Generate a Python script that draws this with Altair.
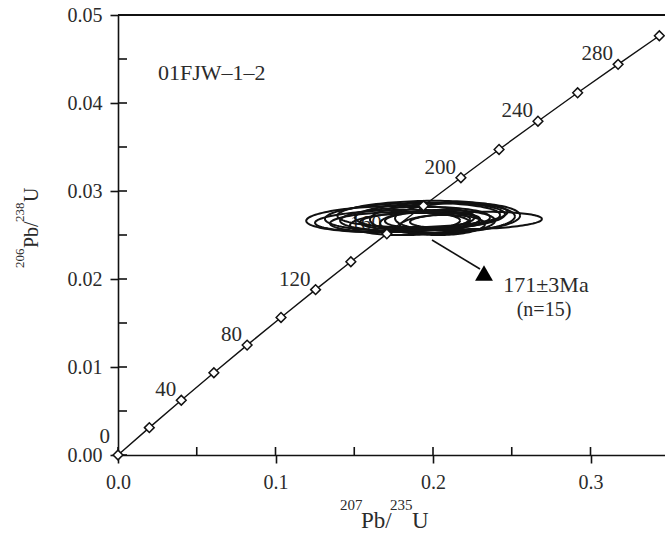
import altair as alt
import pandas as pd
import numpy as np

# ---- data ----
# Concordia reference points: age (Ma), 207Pb/235U, 206Pb/238U
conc_age = [0, 20, 40, 60, 80, 100, 120, 140, 160, 180, 200, 220, 240, 260, 280, 300]
conc_x = [0.0, 0.01989, 0.04018, 0.06087, 0.08198, 0.10350, 0.12545, 0.14784,
          0.17068, 0.19397, 0.21772, 0.24194, 0.26664, 0.29183, 0.31752, 0.34370]
conc_y = [0.0, 0.00311, 0.00622, 0.00935, 0.01249, 0.01563, 0.01879, 0.02196,
          0.02513, 0.02832, 0.03151, 0.03472, 0.03793, 0.04116, 0.04439, 0.04764]
label_ages = [40, 80, 120, 160, 200, 240, 280]

# Analysis error ellipses: centre, half-widths (207/235, 206/238)
ell_cx = [0.1730, 0.1775, 0.1870, 0.1759, 0.1886, 0.1854, 0.1981, 0.1917,
          0.2060, 0.2029, 0.1965, 0.2156, 0.2060, 0.2273, 0.1933]
ell_cy = [0.02682, 0.02659, 0.02705, 0.02648, 0.02682, 0.02625, 0.02716, 0.02659,
          0.02693, 0.02648, 0.02670, 0.02705, 0.02614, 0.02665, 0.02739]
ell_rx = [0.0535, 0.0524, 0.0556, 0.0413, 0.0476, 0.0381, 0.0476, 0.0381,
          0.0460, 0.0365, 0.0270, 0.0397, 0.0270, 0.0419, 0.0540]
ell_ry = [0.00148, 0.00125, 0.00159, 0.00114, 0.00136, 0.00125, 0.00148, 0.00102,
          0.00170, 0.00136, 0.00091, 0.00159, 0.00114, 0.00097, 0.00148]
ell_slope = 0.004  # slight positive correlation of the ellipses

x_major = [0.0, 0.1, 0.2, 0.3]
x_minor = [0.05, 0.15, 0.25]
y_major = [0.0, 0.01, 0.02, 0.03, 0.04, 0.05]
y_minor = [0.005, 0.015, 0.025, 0.035, 0.045]

sample_name = "01FJW\u20131\u20132"
age_text = "171\u00b13Ma"
n_text = "(n=15)"
x_title_parts = ["207", "Pb/", "235", "U"]
y_title_parts = ["206", "Pb/", "238", "U"]

# ---- tables ----
conc = pd.DataFrame({"age": conc_age, "x": conc_x, "y": conc_y})
lab = conc[conc["age"].isin(label_ages)].copy()
lab["txt"] = lab["age"].astype(str)
zero = conc[conc["age"] == 0].copy()
zero["txt"] = "0"

t = np.linspace(0, 2 * np.pi, 121)
rows = []
for i, (cx, cy, rx, ry) in enumerate(zip(ell_cx, ell_cy, ell_rx, ell_ry)):
    for k, tt in enumerate(t):
        dx = rx * np.cos(tt)
        rows.append({"id": i, "k": k, "x": cx + dx, "y": cy + ry * np.sin(tt) + ell_slope * dx})
ell = pd.DataFrame(rows)

W, H = 547, 440
FONT = "Liberation Serif"
INK = "#111111"
TXT = "#2b2b2b"

xs = alt.Scale(domain=[0, 0.3473], nice=False, zero=False)
ys = alt.Scale(domain=[0, 0.05], nice=False, zero=False)
x_axis = alt.Axis(values=x_major, format=".1f", tickSize=8, tickWidth=1.6, domainWidth=1.6,
                  domainColor=INK, tickColor=INK, labelFont=FONT, labelFontSize=20,
                  labelColor=TXT, labelPadding=9, grid=False, title=None, labelFlush=False)
y_axis = alt.Axis(values=y_major, format=".2f", tickSize=8, tickWidth=1.6, domainWidth=1.6,
                  domainColor=INK, tickColor=INK, labelFont=FONT, labelFontSize=20,
                  labelColor=TXT, labelPadding=8, grid=False, title=None, labelFlush=False)

def X(f="x"):
    return alt.X(f, type="quantitative", scale=xs, axis=x_axis)

def Y(f="y"):
    return alt.Y(f, type="quantitative", scale=ys, axis=y_axis)

# inward ticks
xt = pd.DataFrame({"v": x_major + x_minor})
yt = pd.DataFrame({"v": y_major + y_minor})
xticks = alt.Chart(xt).mark_rule(color=INK, strokeWidth=1.6).encode(
    x=X("v"), y=alt.value(H), y2=alt.value(H - 8))
yticks = alt.Chart(yt).mark_rule(color=INK, strokeWidth=1.6).encode(
    y=Y("v"), x=alt.value(0), x2=alt.value(9))

one = pd.DataFrame({"a": [0]})
topline = alt.Chart(one).mark_rule(color=INK, strokeWidth=1.8).encode(
    x=alt.value(0), x2=alt.value(W), y=alt.value(0))

line = alt.Chart(conc).mark_line(color=INK, strokeWidth=1.4).encode(
    x=X(), y=Y(), order="age:Q")
pts = alt.Chart(conc).mark_point(shape="diamond", size=95, filled=True, fill="white",
                                 stroke=INK, strokeWidth=1.5, opacity=1).encode(x=X(), y=Y())
labels = alt.Chart(lab).mark_text(font=FONT, fontSize=21, color=TXT, align="right",
                                  baseline="alphabetic", dx=-5, dy=-4).encode(
    x=X(), y=Y(), text="txt:N")
zlabel = alt.Chart(zero).mark_text(font=FONT, fontSize=21, color=TXT, align="right",
                                   baseline="alphabetic", dx=-8, dy=-12).encode(
    x=X(), y=Y(), text="txt:N")

ells = alt.Chart(ell).mark_line(color=INK, strokeWidth=2.0).encode(
    x=X(), y=Y(), detail="id:N", order="k:Q")

arrow = alt.Chart(one).mark_rule(color=INK, strokeWidth=1.6).encode(
    x=alt.value(314), y=alt.value(225), x2=alt.value(362), y2=alt.value(254))
head = alt.Chart(one).mark_point(shape="triangle-up", size=320, filled=True,
                                 color="black", opacity=1).encode(
    x=alt.value(366), y=alt.value(258))

def txt(s, x, y, size, align="center", angle=0):
    kw = dict(font=FONT, fontSize=size, color=TXT, align=align, baseline="alphabetic")
    if angle:
        kw["angle"] = angle
    return alt.Chart(pd.DataFrame({"s": [s]})).mark_text(**kw).encode(
        x=alt.value(x), y=alt.value(y), text="s:N")

t_age = txt(age_text, 428, 277, 22)
t_n = txt(n_text, 426, 301, 20)
t_sample = txt(sample_name, 40, 65, 22, align="left")

# x-axis title built from superscript pieces
xt1 = txt(x_title_parts[0], 222, 495, 15, align="left")
xt2 = txt(x_title_parts[1], 243, 513, 23, align="left")
xt3 = txt(x_title_parts[2], 272, 495, 15, align="left")
xt4 = txt(x_title_parts[3], 294, 513, 23, align="left")
# y-axis title (rotated, reads upward)
yt1 = txt(y_title_parts[0], -94, 253, 13, align="left", angle=270)
yt2 = txt(y_title_parts[1], -80, 233, 20, align="left", angle=270)
yt3 = txt(y_title_parts[2], -94, 207, 13, align="left", angle=270)
yt4 = txt(y_title_parts[3], -80, 187, 20, align="left", angle=270)

chart = alt.layer(
    xticks, yticks, topline, line, labels, zlabel, ells, pts, arrow, head,
    t_age, t_n, t_sample, xt1, xt2, xt3, xt4, yt1, yt2, yt3, yt4
).properties(
    width=W, height=H,
    autosize=alt.AutoSizeParams(type="none"),
    padding={"left": 118, "top": 15, "right": 0, "bottom": 84},
    background="white",
).configure_view(stroke=None)

chart.save("out.html", embed_options={"renderer": "svg", "actions": False})
